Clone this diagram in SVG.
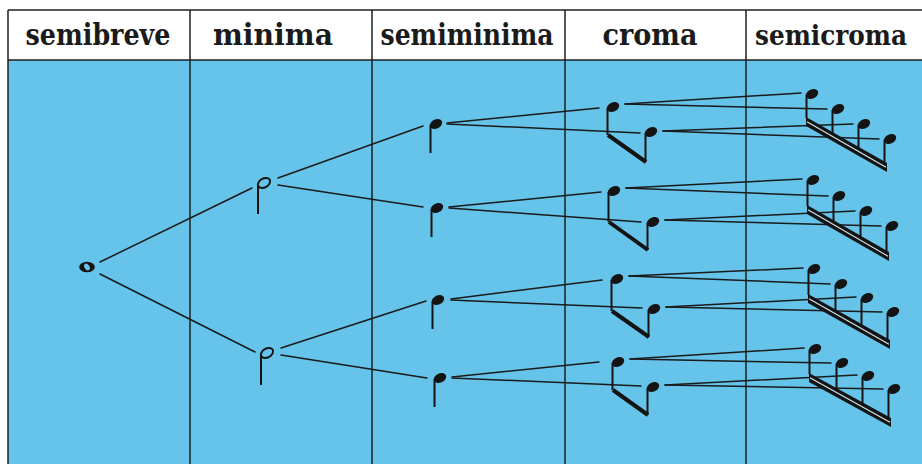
<svg xmlns="http://www.w3.org/2000/svg" xmlns:xlink="http://www.w3.org/1999/xlink" width="922" height="464" viewBox="0 0 922 464">
<style>
.hdr{font-family:"DejaVu Serif","Liberation Serif",serif;font-weight:bold;font-size:29px;fill:#1b1b1b;text-anchor:middle}
.grid{stroke:#1e1e1e;stroke-width:1.5;fill:none}
.con{stroke:#1b1b1b;stroke-width:1.5;fill:none;stroke-linecap:round}
.stem{stroke:#141414;stroke-width:2;fill:none}
.beam{stroke:#141414;stroke-width:4;fill:none}
.band{fill:#141414}
.gap{stroke:#cfe8f4;stroke-width:1.1;fill:none}
.qh{fill:#141414}
</style>
<defs>
<ellipse id="qh" class="qh" cx="0" cy="0" rx="6.6" ry="4.6" transform="rotate(-28)"/>
<ellipse id="hh" cx="0" cy="0" rx="6.6" ry="4.4" transform="rotate(-30)" fill="none" stroke="#141414" stroke-width="2"/>
</defs>
<rect x="0" y="0" width="922" height="464" fill="#ffffff"/>
<rect x="8" y="60" width="914" height="404" fill="#66c3ea"/>
<g id="grid">
<line class="grid" x1="8" y1="10" x2="922" y2="10"/>
<line class="grid" x1="8" y1="60" x2="922" y2="60"/>
<line class="grid" x1="8" y1="10" x2="8" y2="464"/>
<line class="grid" x1="190" y1="10" x2="190" y2="464"/>
<line class="grid" x1="372" y1="10" x2="372" y2="464"/>
<line class="grid" x1="565" y1="10" x2="565" y2="464"/>
<line class="grid" x1="746" y1="10" x2="746" y2="464"/>
</g>
<g id="headers">
<text class="hdr" x="98" y="45" textLength="145" lengthAdjust="spacingAndGlyphs">semibreve</text>
<text class="hdr" x="273" y="45" textLength="120" lengthAdjust="spacingAndGlyphs">minima</text>
<text class="hdr" x="467" y="45" textLength="173" lengthAdjust="spacingAndGlyphs">semiminima</text>
<text class="hdr" x="650" y="45" textLength="95" lengthAdjust="spacingAndGlyphs">croma</text>
<text class="hdr" x="831" y="45" textLength="152" lengthAdjust="spacingAndGlyphs" style="font-size:27px">semicroma</text>
</g>
<g id="connectors">
<line class="con" x1="100" y1="262" x2="252" y2="188"/>
<line class="con" x1="100" y1="274" x2="255" y2="352"/>
<line class="con" x1="278" y1="178" x2="423" y2="126"/>
<line class="con" x1="278" y1="185" x2="423" y2="207"/>
<line class="con" x1="281" y1="348" x2="426" y2="301"/>
<line class="con" x1="281" y1="355" x2="427" y2="378"/>
<line class="con" x1="447" y1="123" x2="599" y2="108"/>
<line class="con" x1="447" y1="124" x2="640" y2="133"/>
<line class="con" x1="449" y1="207" x2="601" y2="192"/>
<line class="con" x1="449" y1="208" x2="641" y2="222"/>
<line class="con" x1="451" y1="299" x2="602" y2="280"/>
<line class="con" x1="451" y1="300" x2="642" y2="308"/>
<line class="con" x1="452" y1="377" x2="599" y2="362"/>
<line class="con" x1="452" y1="378" x2="641" y2="386"/>
<line class="con" x1="625" y1="104" x2="801" y2="93"/>
<line class="con" x1="625" y1="104" x2="827" y2="109"/>
<line class="con" x1="663" y1="131" x2="853" y2="124"/>
<line class="con" x1="663" y1="131" x2="879" y2="139"/>
<line class="con" x1="626" y1="188" x2="802" y2="179"/>
<line class="con" x1="626" y1="188" x2="828" y2="196"/>
<line class="con" x1="665" y1="220" x2="855" y2="211"/>
<line class="con" x1="665" y1="220" x2="881" y2="226"/>
<line class="con" x1="629" y1="276" x2="803" y2="268"/>
<line class="con" x1="629" y1="276" x2="830" y2="284"/>
<line class="con" x1="666" y1="307" x2="856" y2="297"/>
<line class="con" x1="666" y1="307" x2="882" y2="312"/>
<line class="con" x1="630" y1="359" x2="804" y2="348"/>
<line class="con" x1="630" y1="359" x2="831" y2="363"/>
<line class="con" x1="665" y1="385" x2="857" y2="375"/>
<line class="con" x1="665" y1="385" x2="883" y2="389"/>
</g>
<g id="semibreve">
<ellipse cx="87" cy="267" rx="7.8" ry="5.2" fill="#141414"/>
<ellipse cx="87" cy="267" rx="2.4" ry="3.6" transform="rotate(-35 87 267)" fill="#66c3ea"/>
</g>
<g id="minima-1">
<use xlink:href="#hh" x="264" y="183"/>
<line class="stem" x1="258" y1="186" x2="258" y2="214" stroke-width="1.8"/>
</g>
<g id="minima-2">
<use xlink:href="#hh" x="267" y="353"/>
<line class="stem" x1="261" y1="356" x2="261" y2="385" stroke-width="1.8"/>
</g>
<g id="semiminima-1">
<use xlink:href="#qh" x="436" y="124"/>
<line class="stem" x1="430.5" y1="125" x2="430.5" y2="153"/>
</g>
<g id="semiminima-2">
<use xlink:href="#qh" x="437" y="208"/>
<line class="stem" x1="431.5" y1="209" x2="431.5" y2="237"/>
</g>
<g id="semiminima-3">
<use xlink:href="#qh" x="438" y="300"/>
<line class="stem" x1="432.5" y1="301" x2="432.5" y2="329"/>
</g>
<g id="semiminima-4">
<use xlink:href="#qh" x="440" y="378"/>
<line class="stem" x1="434.5" y1="379" x2="434.5" y2="407"/>
</g>
<g id="croma-1">
<use xlink:href="#qh" x="613" y="107"/>
<use xlink:href="#qh" x="651" y="132"/>
<line class="stem" x1="607.5" y1="108" x2="607.5" y2="135"/>
<line class="stem" x1="645.5" y1="133" x2="645.5" y2="162"/>
<line class="beam" x1="608" y1="135" x2="646" y2="162"/>
</g>
<g id="croma-2">
<use xlink:href="#qh" x="614" y="191"/>
<use xlink:href="#qh" x="653" y="222"/>
<line class="stem" x1="608.5" y1="192" x2="608.5" y2="222"/>
<line class="stem" x1="647.5" y1="223" x2="647.5" y2="250"/>
<line class="beam" x1="609" y1="222" x2="648" y2="250"/>
</g>
<g id="croma-3">
<use xlink:href="#qh" x="617" y="279"/>
<use xlink:href="#qh" x="654" y="309"/>
<line class="stem" x1="611.5" y1="280" x2="611.5" y2="311"/>
<line class="stem" x1="648.5" y1="310" x2="648.5" y2="337"/>
<line class="beam" x1="612" y1="311" x2="649" y2="337"/>
</g>
<g id="croma-4">
<use xlink:href="#qh" x="618" y="362"/>
<use xlink:href="#qh" x="653" y="387"/>
<line class="stem" x1="612.5" y1="363" x2="612.5" y2="390"/>
<line class="stem" x1="647.5" y1="388" x2="647.5" y2="415"/>
<line class="beam" x1="613" y1="390" x2="648" y2="415"/>
</g>
<g id="semicroma-1">
<use xlink:href="#qh" x="812" y="94"/>
<use xlink:href="#qh" x="838" y="109"/>
<use xlink:href="#qh" x="864" y="124"/>
<use xlink:href="#qh" x="890" y="139"/>
<line class="stem" x1="806.5" y1="95" x2="806.5" y2="118"/>
<line class="stem" x1="832.5" y1="110" x2="832.5" y2="133"/>
<line class="stem" x1="858.5" y1="125" x2="858.5" y2="148"/>
<line class="stem" x1="884.5" y1="140" x2="884.5" y2="163"/>
<polygon class="band" points="806,117 887,163 887,172 806,126"/>
<line class="gap" x1="807" y1="121.8" x2="886" y2="167.2"/>
</g>
<g id="semicroma-2">
<use xlink:href="#qh" x="813" y="180"/>
<use xlink:href="#qh" x="839" y="196"/>
<use xlink:href="#qh" x="866" y="211"/>
<use xlink:href="#qh" x="892" y="226"/>
<line class="stem" x1="807.5" y1="181" x2="807.5" y2="206"/>
<line class="stem" x1="833.5" y1="197" x2="833.5" y2="221"/>
<line class="stem" x1="860.5" y1="212" x2="860.5" y2="237"/>
<line class="stem" x1="886.5" y1="227" x2="886.5" y2="251"/>
<polygon class="band" points="807,205 889,252 889,261 807,214"/>
<line class="gap" x1="808" y1="209.8" x2="888" y2="256.2"/>
</g>
<g id="semicroma-3">
<use xlink:href="#qh" x="814" y="269"/>
<use xlink:href="#qh" x="841" y="284"/>
<use xlink:href="#qh" x="867" y="298"/>
<use xlink:href="#qh" x="893" y="312"/>
<line class="stem" x1="808.5" y1="270" x2="808.5" y2="295"/>
<line class="stem" x1="835.5" y1="285" x2="835.5" y2="310"/>
<line class="stem" x1="861.5" y1="299" x2="861.5" y2="325"/>
<line class="stem" x1="887.5" y1="313" x2="887.5" y2="340"/>
<polygon class="band" points="808,294 890,340 890,349 808,303"/>
<line class="gap" x1="809" y1="298.8" x2="889" y2="344.2"/>
</g>
<g id="semicroma-4">
<use xlink:href="#qh" x="815" y="349"/>
<use xlink:href="#qh" x="842" y="363"/>
<use xlink:href="#qh" x="868" y="376"/>
<use xlink:href="#qh" x="894" y="389"/>
<line class="stem" x1="809.5" y1="350" x2="809.5" y2="374"/>
<line class="stem" x1="836.5" y1="364" x2="836.5" y2="389"/>
<line class="stem" x1="862.5" y1="377" x2="862.5" y2="403"/>
<line class="stem" x1="888.5" y1="390" x2="888.5" y2="417"/>
<polygon class="band" points="809,373 891,418 891,427 809,382"/>
<line class="gap" x1="810" y1="377.8" x2="890" y2="422.2"/>
</g>
</svg>
